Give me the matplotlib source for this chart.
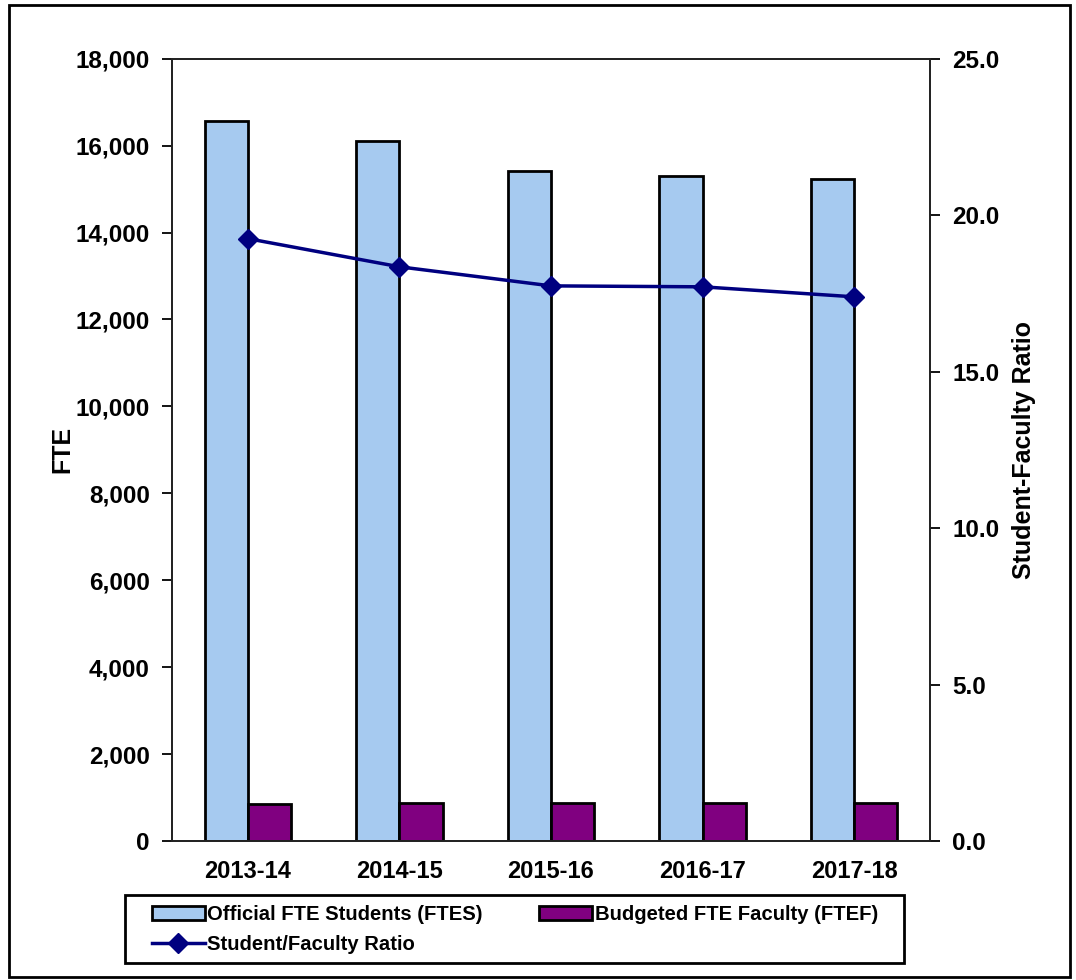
import matplotlib
matplotlib.use("Agg")
import matplotlib.pyplot as plt
import numpy as np
from matplotlib.patches import Rectangle
from matplotlib.legend_handler import HandlerPatch

plt.rcParams['font.family'] = ['Liberation Sans', 'DejaVu Sans']
plt.rcParams['font.weight'] = 'bold'
plt.rcParams['axes.labelweight'] = 'bold'

categories = ["2013-14", "2014-15", "2015-16", "2016-17", "2017-18"]
ftes = [16560, 16100, 15410, 15290, 15240]
ftef = [862, 877, 869, 863, 876]
ratio = [19.25, 18.35, 17.74, 17.71, 17.39]

left_ticks = [0, 2000, 4000, 6000, 8000, 10000, 12000, 14000, 16000, 18000]
right_ticks = [0.0, 5.0, 10.0, 15.0, 20.0, 25.0]

fig = plt.figure(figsize=(10.76, 9.8), dpi=100)
ax = fig.add_axes([172/1076, 1-841/980, (930-172)/1076, (841-58.7)/980])
ax2 = ax.twinx()

x = np.arange(len(categories))
w = 0.285
ax.bar(x - w/2, ftes, width=w, color="#A6CAF0", edgecolor="black", linewidth=2,
       label="Official FTE Students (FTES)", zorder=2)
ax.bar(x + w/2, ftef, width=w, color="#800080", edgecolor="black", linewidth=2,
       label="Budgeted FTE Faculty (FTEF)", zorder=2)
ax2.plot(x, ratio, color="#000080", linewidth=2.5, marker="D", markersize=10,
         label="Student/Faculty Ratio", zorder=3)

ax.set_xlim(-0.5, len(categories) - 0.5)
ax.set_ylim(0, 18000)
ax2.set_ylim(0, 25)
ax.set_yticks(left_ticks)
ax.set_yticklabels([f"{v:,}" for v in left_ticks])
ax2.set_yticks(right_ticks)
ax2.set_yticklabels([f"{v:.1f}" for v in right_ticks])
ax.set_xticks(x)
ax.set_xticklabels(categories)

ax.tick_params(axis="y", direction="out", length=7, width=1.3, labelsize=17.5, pad=9)
ax2.tick_params(axis="y", direction="out", length=7, width=1.3, labelsize=17.5, pad=9)
ax.tick_params(axis="x", length=0, labelsize=17, pad=14)

for a in (ax, ax2):
    for s in a.spines.values():
        s.set_linewidth(1.3)
        s.set_color("#222222")

ax.set_ylabel("FTE", fontsize=18, fontweight="bold", labelpad=1)
ax2.set_ylabel("Student-Faculty Ratio", fontsize=18, fontweight="bold", labelpad=9)


class SlimPatchHandler(HandlerPatch):
    def create_artists(self, legend, orig_handle, xdescent, ydescent, width, height, fontsize, trans):
        h = height * 0.55
        p = Rectangle((-xdescent, -ydescent + (height - h) / 2), width, h,
                      facecolor=orig_handle.get_facecolor(), edgecolor="black", linewidth=2)
        p.set_transform(trans)
        return [p]


h1, l1 = ax.get_legend_handles_labels()
h2, l2 = ax2.get_legend_handles_labels()
handles = [h1[0], h2[0], h1[1]]
labels = [l1[0], l2[0], l1[1]]
leg = fig.legend(handles, labels, ncol=2, loc="upper left",
                 bbox_to_anchor=(152/1076, 1-905/980),
                 prop={"size": 14.6, "weight": "bold"},
                 frameon=False, borderaxespad=0, borderpad=0,
                 handlelength=2.6, handletextpad=0.12, columnspacing=2.8,
                 labelspacing=0.55)

# legend frame box
fig.patches.append(Rectangle((125/1076, 1-963/980), (904-125)/1076, (963-895)/980,
                             transform=fig.transFigure, fill=False,
                             edgecolor="black", linewidth=2))

# outer chart border
fig.patches.append(Rectangle((9/1076, 3/980), (1070-9)/1076, (975-3)/980,
                             transform=fig.transFigure, fill=False,
                             edgecolor="black", linewidth=2))

fig.savefig("out.png", dpi=100)
